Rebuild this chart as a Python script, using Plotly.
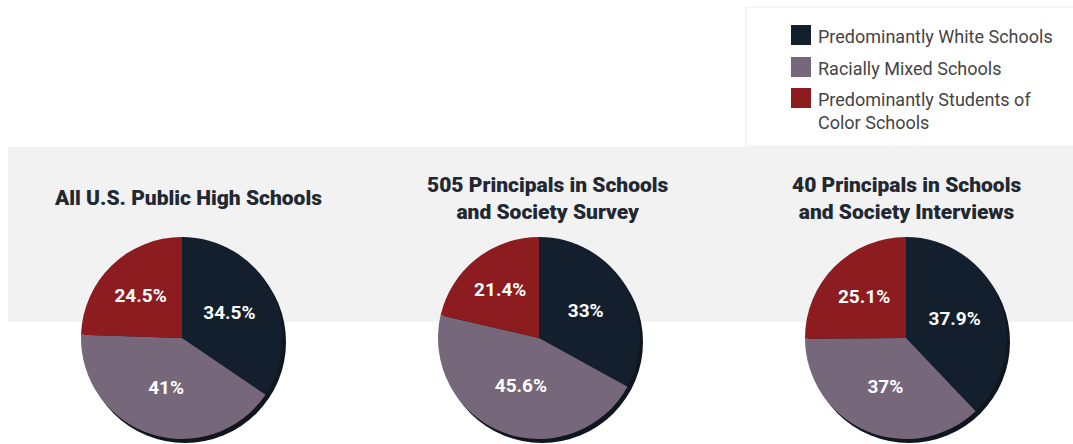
import plotly.graph_objects as go

W, H = 1073, 444

categories = ["Predominantly White Schools", "Racially Mixed Schools",
              "Predominantly Students of<br>Color Schools"]
titles = ["All U.S. Public High Schools",
          "505 Principals in Schools<br>and Society Survey",
          "40 Principals in Schools<br>and Society Interviews"]
all_us = [34.5, 41, 24.5]
survey = [33, 45.6, 21.4]
interviews = [37.9, 37, 25.1]
series = [all_us, survey, interviews]
value_labels = [["34.5%", "41%", "24.5%"],
                ["33%", "45.6%", "21.4%"],
                ["37.9%", "37%", "25.1%"]]

colors = ["#131f2c", "#76687a", "#8c1c20"]

# pie geometry in pixels (center x, center y, radius)
centers = [(182, 338), (539, 338), (906, 338)]
R = 101
title_cx = [188, 548, 906]
title_cy = [198, 198, 198]

def px(x):
    return x / W

def py(y):
    return 1 - y / H

fig = go.Figure()
shapes = []
annotations = []

# grey band
shapes.append(dict(type="rect", xref="paper", yref="paper",
                   x0=px(8), x1=1.01, y0=py(322), y1=py(147),
                   fillcolor="#f2f2f2", line=dict(width=0), layer="below"))
# legend box
shapes.append(dict(type="rect", xref="paper", yref="paper",
                   x0=px(746), x1=1.01, y0=py(146), y1=py(7),
                   fillcolor="#ffffff", line=dict(width=1, color="#ececec"), layer="below"))

for i, (vals, labs) in enumerate(zip(series, value_labels)):
    cx, cy = centers[i]
    # drop shadow
    shapes.append(dict(type="circle", xref="paper", yref="paper",
                       xsizemode="pixel", ysizemode="pixel",
                       xanchor=px(cx + 3), yanchor=py(cy + 4),
                       x0=-R, x1=R, y0=-R, y1=R,
                       fillcolor="#10161e", line=dict(width=0), layer="below"))
    fig.add_trace(go.Pie(
        values=vals, labels=categories, text=labs,
        textinfo="text", textposition="inside", insidetextorientation="horizontal",
        textfont=dict(family="Roboto", size=19, color="white", weight="bold"),
        sort=False, direction="clockwise", rotation=0,
        marker=dict(colors=colors, line=dict(width=0)),
        domain=dict(x=[px(cx - R), px(cx + R)], y=[py(cy + R), py(cy - R)]),
        showlegend=False, hoverinfo="label+text",
    ))
    annotations.append(dict(xref="paper", yref="paper", x=px(title_cx[i]), y=py(title_cy[i]),
                            text=titles[i], showarrow=False, xanchor="center", yanchor="middle",
                            align="center",
                            font=dict(family="Roboto", size=21, color="#222831", weight=900)))

# legend (manual)
leg_y = [35, 67, 98]
for j, cat in enumerate(categories):
    shapes.append(dict(type="rect", xref="paper", yref="paper",
                       x0=px(791), x1=px(811), y0=py(leg_y[j] + 10), y1=py(leg_y[j] - 10),
                       fillcolor=colors[j], line=dict(width=0)))
    annotations.append(dict(xref="paper", yref="paper", x=px(816), y=py(leg_y[j] - 11),
                            text=cat, showarrow=False, xanchor="left", yanchor="top", align="left",
                            font=dict(family="Roboto", size=18, color="#444444")))

fig.update_layout(width=W, height=H, margin=dict(l=0, r=0, t=0, b=0),
                  paper_bgcolor="white", plot_bgcolor="white",
                  shapes=shapes, annotations=annotations, showlegend=False)

fig.write_html("out.html")
